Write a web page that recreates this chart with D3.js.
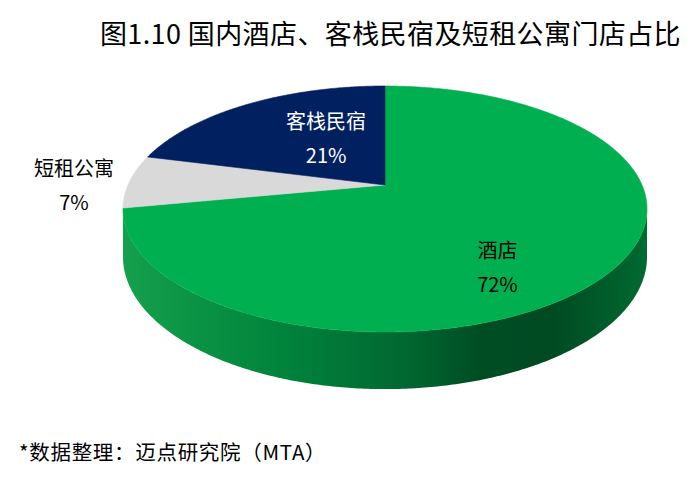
<!DOCTYPE html>
<html>
<head>
<meta charset="utf-8">
<script src="https://cdn.jsdelivr.net/npm/d3@7/dist/d3.min.js"></script>
<style>
	body { margin: 0; background: #fff; }
	text { font-family: "Noto Sans CJK SC", "Noto Sans", sans-serif; }
</style>
</head>
<body>
<div id="chart"></div>
<script>
// data
var categories = ["酒店", "短租公寓", "客栈民宿"];
var shares = [72, 7, 21];
var percentLabels = ["72%", "7%", "21%"];
var titleText = "图1.10 国内酒店、客栈民宿及短租公寓门店占比";
var sourceText = "*数据整理：迈点研究院（MTA）";

var width = 693, height = 486;
// 3d pie geometry
var cx = 385, cy = 185, rx = 257, ry = 118.3, persp = 0.195, depth = 46;
var colors = d3.scaleOrdinal().domain(categories).range(["#00b050", "#d9d9d9", "#002060"]);
var textColors = d3.scaleOrdinal().domain(categories).range(["#000", "#000", "#fff"]);
// where the labels sit: radius fraction and angle nudge (deg)
var labelSpot = {
	"酒店": { r: 0.72, nudge: 18 },
	"短租公寓": { r: 1.21, nudge: -1.8 },
	"客栈民宿": { r: 0.5, nudge: 8 }
};

// angle is clockwise from 12 o'clock, z = 0 top face, 1 bottom
function project(angle, r, z) {
	var X = r * Math.sin(angle), Y = -r * Math.cos(angle);
	var d = 1 - persp * Y;
	return [cx + rx * X / d, cy + (ry * Y + depth * z) / d];
}

function arcPoints(a0, a1, z) {
	var n = Math.max(2, Math.ceil(Math.abs(a1 - a0) / 0.01));
	return d3.range(n + 1).map(function (i) {
		return project(a0 + (a1 - a0) * i / n, 1, z);
	});
}

var svg = d3.select("#chart")
	.append("svg")
	.attr("width", width)
	.attr("height", height);

var grad = svg.append("defs").append("linearGradient")
	.attr("id", "sideGreen")
	.attr("gradientUnits", "userSpaceOnUse")
	.attr("x1", cx - rx - 5).attr("x2", cx + rx + 5)
	.attr("y1", 0).attr("y2", 0);
[[0, "#14a04c"], [0.3, "#00843c"], [0.55, "#006630"], [0.68, "#004d24"], [0.82, "#004a22"], [1, "#006a30"]]
	.forEach(function (s) {
		grad.append("stop").attr("offset", s[0]).attr("stop-color", s[1]);
	});

var pie = d3.pie().sort(null).value(function (d, i) { return shares[i]; });
var arcs = pie(categories);

var line = d3.line();

// side wall, only the front part shows
var visLo = Math.acos(-persp), visHi = 2 * Math.PI - visLo;
arcs.forEach(function (a) {
	var s = Math.max(a.startAngle, visLo), e = Math.min(a.endAngle, visHi);
	if (e <= s) return;
	var pts = arcPoints(s, e, 0).concat(arcPoints(e, s, 1));
	svg.append("path")
		.attr("d", line(pts) + "Z")
		.attr("fill", a.data === "酒店" ? "url(#sideGreen)" : d3.color(colors(a.data)).darker(1));
});

// top faces
svg.selectAll("path.top")
	.data(arcs)
	.enter()
	.append("path")
	.attr("class", "top")
	.attr("d", function (a) {
		var pts = [project(0, 0, 0)].concat(arcPoints(a.startAngle, a.endAngle, 0));
		return line(pts) + "Z";
	})
	.attr("fill", function (a) { return colors(a.data); })
	.attr("stroke", function (a) { return colors(a.data); })
	.attr("stroke-width", 0.6);

// labels
var labels = svg.selectAll("g.lbl")
	.data(arcs)
	.enter()
	.append("g")
	.attr("class", "lbl")
	.attr("transform", function (a) {
		var spot = labelSpot[a.data];
		var mid = (a.startAngle + a.endAngle) / 2 + spot.nudge * Math.PI / 180;
		var p = project(mid, spot.r, 0);
		return "translate(" + p[0] + "," + p[1] + ")";
	});
labels.append("text")
	.attr("text-anchor", "middle")
	.attr("y", -9)
	.attr("font-size", 20)
	.attr("fill", function (a) { return textColors(a.data); })
	.text(function (a) { return a.data; });
labels.append("text")
	.attr("text-anchor", "middle")
	.attr("y", 25)
	.attr("font-size", 20)
	.attr("fill", function (a) { return textColors(a.data); })
	.text(function (a) { return percentLabels[a.index]; });

svg.append("text")
	.attr("x", 681)
	.attr("y", 44)
	.attr("text-anchor", "end")
	.attr("font-size", 27)
	.attr("letter-spacing", 0.4)
	.attr("fill", "#000")
	.text(titleText);

svg.append("text")
	.attr("x", 19)
	.attr("y", 460)
	.attr("font-size", 20.5)
	.attr("letter-spacing", 0.7)
	.attr("fill", "#000")
	.text(sourceText);
</script>
</body>
</html>
